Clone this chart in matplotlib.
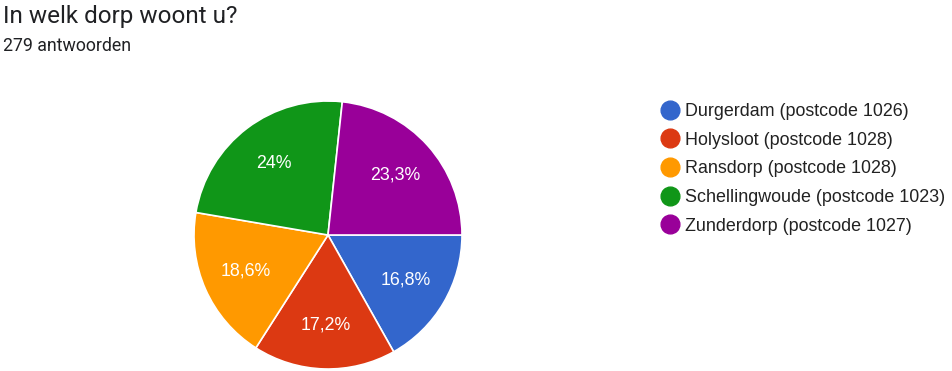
import numpy as np
import matplotlib.pyplot as plt
from matplotlib.lines import Line2D

plt.rcParams['font.family'] = ['Liberation Sans', 'DejaVu Sans']

labels = ['Durgerdam (postcode 1026)', 'Holysloot (postcode 1028)', 'Ransdorp (postcode 1028)',
          'Schellingwoude (postcode 1023)', 'Zunderdorp (postcode 1027)']
counts = [47, 48, 52, 67, 65]
pct_labels = ['16,8%', '17,2%', '18,6%', '24%', '23,3%']
colors = ['#3366cc', '#dc3912', '#ff9900', '#109618', '#990099']

W, H = 953, 371
fig = plt.figure(figsize=(W / 100, H / 100), dpi=100)

# pie centred at (328, 235) px, radius 134 px
cx, cy, r = 328, 235, 134
ax = fig.add_axes([(cx - r) / W, (H - cy - r) / H, 2 * r / W, 2 * r / H])
wedges, _ = ax.pie(counts, colors=colors, startangle=0, counterclock=False,
                   wedgeprops=dict(edgecolor='white', linewidth=1.2))
for w, txt in zip(wedges, pct_labels):
    ang = np.deg2rad((w.theta1 + w.theta2) / 2)
    ax.text(0.67 * np.cos(ang), 0.67 * np.sin(ang), txt, ha='center', va='center',
            color='white', fontsize=12.8)
ax.set_xlim(-1, 1)
ax.set_ylim(-1, 1)
ax.set_aspect('equal')
ax.axis('off')

fig.text(3 / W, 1 - 17 / H, 'In welk dorp woont u?', fontsize=17.5, color='#202124',
         va='center', ha='left', family='Roboto')
fig.text(3 / W, 1 - 46 / H, '279 antwoorden', fontsize=12.8, color='#202124',
         va='center', ha='left', family='Roboto')

handles = [Line2D([], [], marker='o', linestyle='', markersize=13.5, markerfacecolor=c,
                  markeredgecolor=c) for c in colors]
fig.legend(handles, labels, loc='upper left', bbox_to_anchor=(643 / W, 1 - 87 / H),
           frameon=False, fontsize=12.9, labelspacing=0.65, handletextpad=0.25,
           handlelength=1.2, labelcolor='#222222')

fig.savefig('out.png', dpi=100)
